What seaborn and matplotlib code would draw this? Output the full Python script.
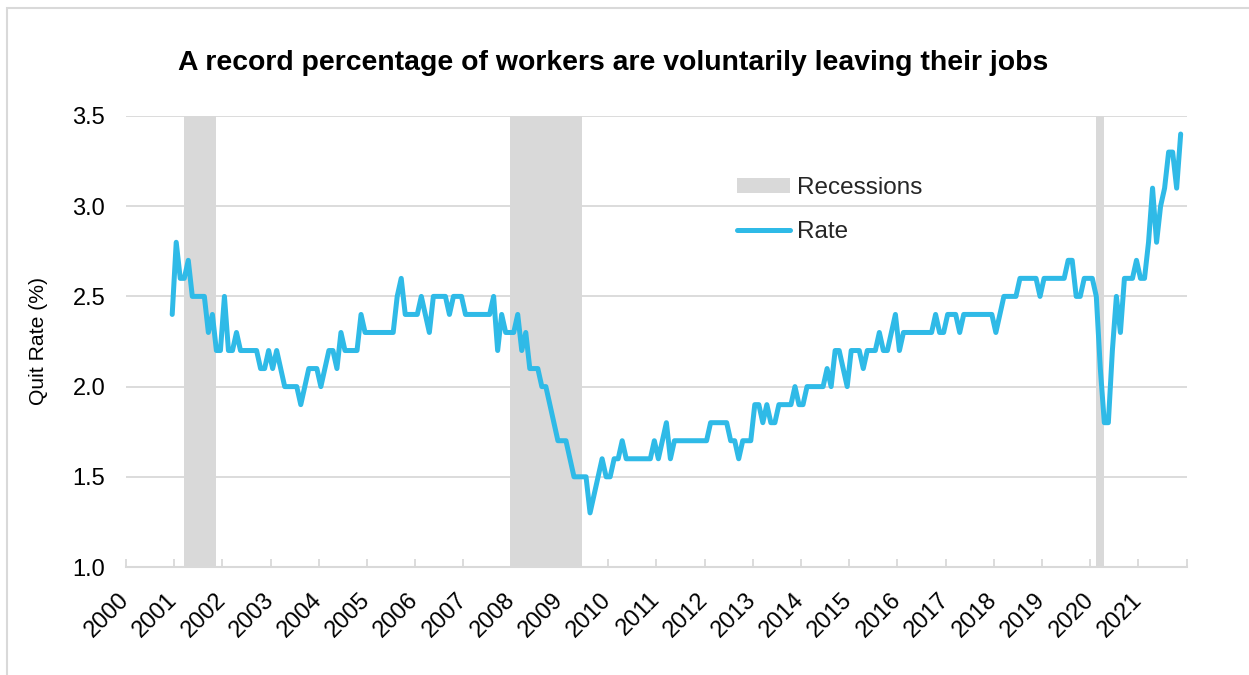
import numpy as np
import pandas as pd
import matplotlib
matplotlib.use("Agg")
import matplotlib.pyplot as plt
from matplotlib.patches import Patch, Rectangle
from matplotlib.lines import Line2D
import seaborn as sns

# ---------------- data ----------------
start_month = "2000-12-01"
rate = [
    2.4,
    2.8, 2.6, 2.6, 2.7, 2.5, 2.5, 2.5, 2.5, 2.3, 2.4, 2.2, 2.2,   # 2001
    2.5, 2.2, 2.2, 2.3, 2.2, 2.2, 2.2, 2.2, 2.2, 2.1, 2.1, 2.2,   # 2002
    2.1, 2.2, 2.1, 2.0, 2.0, 2.0, 2.0, 1.9, 2.0, 2.1, 2.1, 2.1,   # 2003
    2.0, 2.1, 2.2, 2.2, 2.1, 2.3, 2.2, 2.2, 2.2, 2.2, 2.4, 2.3,   # 2004
    2.3, 2.3, 2.3, 2.3, 2.3, 2.3, 2.3, 2.5, 2.6, 2.4, 2.4, 2.4,   # 2005
    2.4, 2.5, 2.4, 2.3, 2.5, 2.5, 2.5, 2.5, 2.4, 2.5, 2.5, 2.5,   # 2006
    2.4, 2.4, 2.4, 2.4, 2.4, 2.4, 2.4, 2.5, 2.2, 2.4, 2.3, 2.3,   # 2007
    2.3, 2.4, 2.2, 2.3, 2.1, 2.1, 2.1, 2.0, 2.0, 1.9, 1.8, 1.7,   # 2008
    1.7, 1.7, 1.6, 1.5, 1.5, 1.5, 1.5, 1.3, 1.4, 1.5, 1.6, 1.5,   # 2009
    1.5, 1.6, 1.6, 1.7, 1.6, 1.6, 1.6, 1.6, 1.6, 1.6, 1.6, 1.7,   # 2010
    1.6, 1.7, 1.8, 1.6, 1.7, 1.7, 1.7, 1.7, 1.7, 1.7, 1.7, 1.7,   # 2011
    1.7, 1.8, 1.8, 1.8, 1.8, 1.8, 1.7, 1.7, 1.6, 1.7, 1.7, 1.7,   # 2012
    1.9, 1.9, 1.8, 1.9, 1.8, 1.8, 1.9, 1.9, 1.9, 1.9, 2.0, 1.9,   # 2013
    1.9, 2.0, 2.0, 2.0, 2.0, 2.0, 2.1, 2.0, 2.2, 2.2, 2.1, 2.0,   # 2014
    2.2, 2.2, 2.2, 2.1, 2.2, 2.2, 2.2, 2.3, 2.2, 2.2, 2.3, 2.4,   # 2015
    2.2, 2.3, 2.3, 2.3, 2.3, 2.3, 2.3, 2.3, 2.3, 2.4, 2.3, 2.3,   # 2016
    2.4, 2.4, 2.4, 2.3, 2.4, 2.4, 2.4, 2.4, 2.4, 2.4, 2.4, 2.4,   # 2017
    2.3, 2.4, 2.5, 2.5, 2.5, 2.5, 2.6, 2.6, 2.6, 2.6, 2.6, 2.5,   # 2018
    2.6, 2.6, 2.6, 2.6, 2.6, 2.6, 2.7, 2.7, 2.5, 2.5, 2.6, 2.6,   # 2019
    2.6, 2.5, 2.1, 1.8, 1.8, 2.2, 2.5, 2.3, 2.6, 2.6, 2.6, 2.7,   # 2020
    2.6, 2.6, 2.8, 3.1, 2.8, 3.0, 3.1, 3.3, 3.3, 3.1, 3.4,        # 2021 (Jan-Nov)
]
recession_start = ["2001-03-01", "2007-12-01", "2020-02-01"]
recession_end = ["2001-11-01", "2009-06-01", "2020-04-01"]
year_ticks = list(range(2000, 2023))
year_labels = [str(y) for y in range(2000, 2022)] + [""]
y_ticks = [1.0, 1.5, 2.0, 2.5, 3.0, 3.5]
title = "A record percentage of workers are voluntarily leaving their jobs"
y_label = "Quit Rate (%)"


def dec_year(ts):
    ts = pd.to_datetime(ts)
    return ts.year + (ts.month - 1) / 12.0 + 1.0 / 24.0


dates = pd.date_range(start_month, periods=len(rate), freq="MS")
df = pd.DataFrame({"date": dec_year(dates), "rate": rate})

# ---------------- style ----------------
sns.set_theme(style="white")
plt.rcParams["font.family"] = ["Liberation Sans", "DejaVu Sans"]

LINE = "#2FBAE7"
SHADE = "#D9D9D9"
GRID = "#D9D9D9"

W, H = 1249, 675
fig = plt.figure(figsize=(W / 100, H / 100), dpi=100)
fig.patch.set_facecolor("white")

# outer chart border (left & top visible)
fig.patches.append(Rectangle((7 / W, -0.05), 1.2, 1 - 8 / H + 0.05,
                             transform=fig.transFigure, fill=False,
                             edgecolor="#D9D9D9", linewidth=1.5))

ax = fig.add_axes([126 / W, 1 - 567 / H, (1186.7 - 126) / W, (567 - 116) / H])

# gridlines
ax.set_axisbelow(True)
ax.yaxis.grid(True, color=GRID, linewidth=1.3, zorder=0)
ax.xaxis.grid(False)

# recessions
for s, e in zip(recession_start, recession_end):
    ax.axvspan(dec_year(pd.Timestamp(s)), dec_year(pd.Timestamp(e)),
               color=SHADE, lw=0, zorder=1)

sns.lineplot(data=df, x="date", y="rate", ax=ax, color=LINE, linewidth=3.6,
             zorder=3, legend=False)
for ln in ax.get_lines():
    ln.set_solid_joinstyle("round")
    ln.set_solid_capstyle("round")

ax.set_xlim(2000, 2022)
ax.set_ylim(1.0, 3.5)
ax.set_xticks(year_ticks)
ax.set_xticklabels(year_labels, rotation=45, ha="right", va="center",
                   rotation_mode="anchor", fontsize=17, color="#000000")
ax.set_yticks(y_ticks)
ax.set_yticklabels([f"{v:.1f}" for v in y_ticks], fontsize=17, color="#000000")
ax.set_xlabel("")
ax.set_ylabel("")

for side in ["left", "right", "top"]:
    ax.spines[side].set_visible(False)
ax.spines["bottom"].set_color(GRID)
ax.spines["bottom"].set_linewidth(1.5)
ax.spines["bottom"].set_zorder(2)

ax.tick_params(axis="x", direction="in", length=5.5, width=1.3, color=GRID,
               pad=21, bottom=True)
ax.tick_params(axis="y", length=0, pad=15)

# title & y label
fig.text(613 / W, 1 - 63 / H, title, ha="center", va="center",
         fontsize=20.4, fontweight="bold", color="#000000")
fig.text(38 / W, 1 - 341 / H, y_label, rotation=90, ha="center", va="center",
         fontsize=15.2, color="#000000")

# legend
handles = [Patch(facecolor=SHADE, edgecolor="none", label="Recessions"),
           Line2D([0], [0], color=LINE, linewidth=3.6, label="Rate",
                  solid_capstyle="round")]
fig.legend(handles=handles, loc="upper left",
           bbox_to_anchor=(737 / W, 1 - 177 / H), frameon=False,
           fontsize=17.5, handlelength=2.2, handleheight=0.6,
           handletextpad=0.25, labelspacing=0.9, borderpad=0,
           borderaxespad=0)

fig.savefig("out.png", dpi=100, facecolor="white")
